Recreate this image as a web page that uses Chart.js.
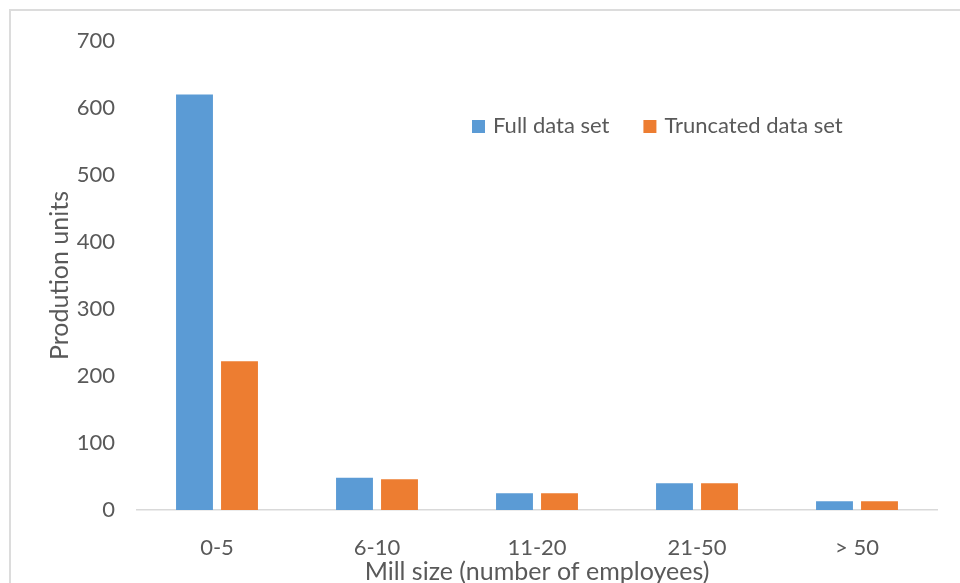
<!DOCTYPE html>
<html>
<head>
<meta charset="utf-8">
<script src="https://cdn.jsdelivr.net/npm/chart.js@4.4.0/dist/chart.umd.min.js"></script>
<style>
    html, body { margin: 0; padding: 0; background: #fff; overflow: hidden; }
    #wrap { position: relative; width: 960px; height: 583px; }
    #frame { position: absolute; left: 9px; top: 9px; width: 1000px; height: 1000px; border: 2px solid #dcdcdc; box-sizing: border-box; }
    canvas { position: absolute; left: 0; top: 0; }
</style>
</head>
<body>
<div id="wrap">
    <div id="frame"></div>
    <canvas id="millChart" width="960" height="583"></canvas>
</div>
<script>
const categories = ['0-5', '6-10', '11-20', '21-50', '> 50'];
const fullData = [620, 48, 25, 40, 13];
const truncatedData = [222, 46, 25, 40, 13];
const yTicks = [0, 100, 200, 300, 400, 500, 600, 700];

const textColor = '#595959';
const fontFamily = 'Lato, "Open Sans", sans-serif';

// legend sits inside the plot area in the original
const insideLegend = {
    id: 'insideLegend',
    afterDraw(chart) {
        const ctx = chart.ctx;
        let x = 472;
        const y = 126;
        ctx.save();
        ctx.font = '22px ' + fontFamily;
        ctx.textBaseline = 'middle';
        chart.data.datasets.forEach(ds => {
            ctx.fillStyle = ds.backgroundColor;
            ctx.fillRect(x, y - 6, 13, 13);
            ctx.fillStyle = textColor;
            ctx.fillText(ds.label, x + 21, y);
            x += 21 + ctx.measureText(ds.label).width + 34;
        });
        ctx.restore();
    }
};

new Chart(document.getElementById('millChart').getContext('2d'), {
    type: 'bar',
    data: {
        labels: categories,
        datasets: [{
            label: 'Full data set',
            data: fullData,
            backgroundColor: '#5B9BD5',
            categoryPercentage: 0.5625,
            barPercentage: 0.82
        }, {
            label: 'Truncated data set',
            data: truncatedData,
            backgroundColor: '#ED7D31',
            categoryPercentage: 0.5625,
            barPercentage: 0.82
        }]
    },
    options: {
        responsive: false,
        animation: false,
        layout: { padding: { top: 41, right: 23, left: 0, bottom: 0 } },
        plugins: {
            legend: { display: false },
            tooltip: { enabled: false }
        },
        scales: {
            x: {
                grid: { display: false },
                border: { display: true, color: '#d9d9d9', width: 1.5 },
                ticks: { color: textColor, font: { family: fontFamily, size: 22 }, padding: 17 },
                title: {
                    display: true,
                    text: 'Mill size (number of employees)',
                    color: textColor,
                    font: { family: fontFamily, size: 25 },
                    padding: { top: 0, bottom: -4 }
                },
                afterFit: scale => { scale.height = 73; }
            },
            y: {
                min: 0,
                max: 700,
                grid: { display: false },
                border: { display: false },
                afterBuildTicks: scale => { scale.ticks = yTicks.map(v => ({ value: v })); },
                ticks: { color: textColor, font: { family: fontFamily, size: 22 }, padding: 14 },
                title: {
                    display: true,
                    text: 'Prodution units',
                    color: textColor,
                    font: { family: fontFamily, size: 25 },
                    padding: { top: 45, bottom: 0 }
                },
                afterFit: scale => { scale.width = 137; }
            }
        }
    },
    plugins: [insideLegend]
});
</script>
</body>
</html>
